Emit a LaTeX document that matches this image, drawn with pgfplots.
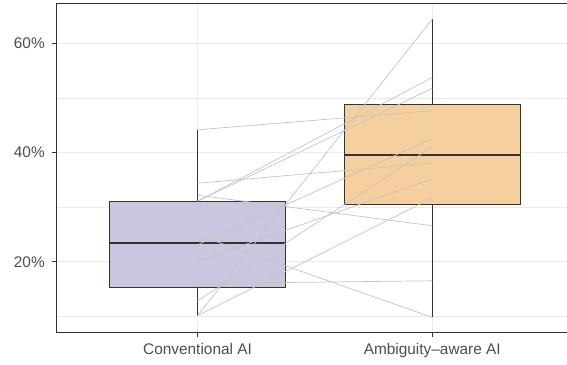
\documentclass[border=0pt]{standalone}
\usepackage{fontspec}
\setmainfont{Liberation Sans}
\usepackage{pgfplots}
\pgfplotsset{compat=1.18}
\definecolor{gridc}{RGB}{235,235,235}
\definecolor{frame}{RGB}{51,51,51}
\definecolor{ticklab}{RGB}{77,77,77}
\definecolor{convfill}{RGB}{203,198,224}
\definecolor{ambfill}{RGB}{245,208,158}
\definecolor{pairline}{RGB}{196,196,196}
\begin{document}
\begin{tikzpicture}
\begin{axis}[
  name=ax,
  scale only axis, width=510.3pt, height=328.3pt,
  xmin=0.4, xmax=2.574, ymin=7.05, ymax=67.28,
  xtick={1,2}, xticklabels={Conventional AI, Ambiguity–aware AI},
  ytick={20,40,60}, yticklabels={20\%,40\%,60\%},
  minor ytick={10,30,50},
  grid=both,
  major grid style={gridc, line width=1.1pt},
  minor grid style={gridc, line width=0.55pt},
  axis line style={frame, line width=1.0pt},
  tick style={frame, line width=1.0pt},
  tick align=outside, major tick length=4.8pt, minor tick length=0pt,
  xtick pos=left, ytick pos=left,
  ticklabel style={font=\fontsize{15.4}{18}\selectfont, text=ticklab},
  yticklabel style={anchor=east, inner sep=0pt, xshift=-7pt},
  xticklabel style={anchor=north, inner sep=0pt, yshift=-6pt},
]
% boxes: conventional AI
\addplot[draw=frame, fill=convfill, line width=1.1pt] coordinates {(0.625,15.2) (1.375,15.2) (1.375,31.1) (0.625,31.1)} -- cycle;
\addplot[frame, line width=1.1pt] coordinates {(1,10.1) (1,15.2)};
\addplot[frame, line width=1.1pt] coordinates {(1,31.1) (1,44.2)};
\addplot[frame, line width=2.2pt] coordinates {(0.625,23.5) (1.375,23.5)};
% boxes: ambiguity-aware AI
\addplot[draw=frame, fill=ambfill, line width=1.1pt] coordinates {(1.625,30.5) (2.375,30.5) (2.375,48.8) (1.625,48.8)} -- cycle;
\addplot[frame, line width=1.1pt] coordinates {(2,9.8) (2,30.5)};
\addplot[frame, line width=1.1pt] coordinates {(2,48.8) (2,64.5)};
\addplot[frame, line width=2.2pt] coordinates {(1.625,39.6) (2.375,39.6)};
% paired lines
\addplot[pairline, line width=0.7pt] coordinates {(1,44.2) (2,47.7)};
\addplot[pairline, line width=0.7pt] coordinates {(1,34.4) (2,38.1)};
\addplot[pairline, line width=0.7pt] coordinates {(1,32.2) (2,26.6)};
\addplot[pairline, line width=0.7pt] coordinates {(1,31.1) (2,53.8)};
\addplot[pairline, line width=0.7pt] coordinates {(1,31.1) (2,51.8)};
\addplot[pairline, line width=0.7pt] coordinates {(1,24.9) (2,9.8)};
\addplot[pairline, line width=0.7pt] coordinates {(1,23.1) (2,42.6)};
\addplot[pairline, line width=0.7pt] coordinates {(1,20.1) (2,35.2)};
\addplot[pairline, line width=0.7pt] coordinates {(1,16.0) (2,16.5)};
\addplot[pairline, line width=0.7pt] coordinates {(1,12.8) (2,41.1)};
\addplot[pairline, line width=0.7pt] coordinates {(1,10.1) (2,64.5)};
\addplot[pairline, line width=0.7pt] coordinates {(1,10.1) (2,31.7)};
\end{axis}
\pgfresetboundingbox
\path[use as bounding box] ([xshift=-56.7pt,yshift=-31.7pt]ax.south west) rectangle ([yshift=4pt]ax.north east);
\end{tikzpicture}
\end{document}
